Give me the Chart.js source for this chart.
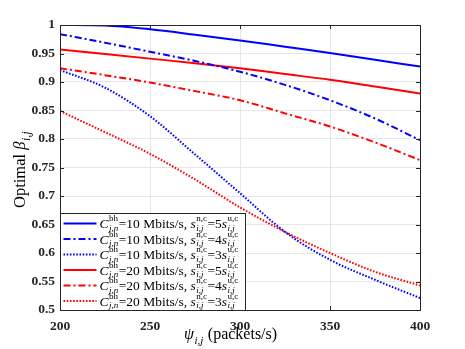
<!DOCTYPE html>
<html>
<head>
<meta charset="utf-8">
<script src="https://cdn.jsdelivr.net/npm/chart.js@4.4.1/dist/chart.umd.min.js"></script>
<style>
  html, body { margin: 0; padding: 0; background: #fff; }
  canvas { display: block; }
</style>
</head>
<body>
<canvas id="betaChart" width="465" height="349"></canvas>
<script>
// Data
const psi = [200, 225, 250, 275, 300, 325, 350, 375, 400];
const xTicks = [200, 250, 300, 350, 400];
const yTicks = [0.5, 0.55, 0.6, 0.65, 0.7, 0.75, 0.8, 0.85, 0.9, 0.95, 1];

const bh10_5 = [1.0, 0.999, 0.9925, 0.983, 0.973, 0.962, 0.951, 0.939, 0.927];
const bh10_4 = [0.984, 0.969, 0.953, 0.937, 0.918, 0.895, 0.868, 0.836, 0.798];
const bh10_3 = [0.921, 0.89, 0.840, 0.773, 0.705, 0.637, 0.588, 0.553, 0.521];
const bh20_5 = [0.957, 0.949, 0.941, 0.933, 0.924, 0.914, 0.904, 0.892, 0.880];
const bh20_4 = [0.924, 0.912, 0.899, 0.884, 0.868, 0.845, 0.822, 0.794, 0.763];
const bh20_3 = [0.849, 0.812, 0.774, 0.729, 0.680, 0.637, 0.600, 0.567, 0.543];

const seriesRates = ['10', '10', '10', '20', '20', '20'];
const seriesRatios = ['5', '4', '3', '5', '4', '3'];

const BLUE = '#0000ff';
const RED = '#ff0000';
const DASHDOT = [7, 3, 2, 3];
const DOT = [1.6, 1.6];

const serif = '"Liberation Serif", "DejaVu Serif", serif';

// draws a run of text pieces; pieces may carry a superscript and subscript
function drawRich(ctx, x, y, pieces, size) {
    let cx = x;
    pieces.forEach(p => {
        ctx.font = (p.it ? 'italic ' : '') + size + 'px ' + serif;
        ctx.fillText(p.t, cx, y);
        cx += ctx.measureText(p.t).width;
        if (p.sup || p.sub) {
            const small = Math.round(size * 0.7);
            let w = 0;
            if (p.sup) {
                ctx.font = small + 'px ' + serif;
                ctx.fillText(p.sup, cx + 0.5, y - size * 0.42);
                w = Math.max(w, ctx.measureText(p.sup).width);
            }
            if (p.sub) {
                ctx.font = 'italic ' + small + 'px ' + serif;
                ctx.fillText(p.sub, cx + 0.5, y + size * 0.3);
                w = Math.max(w, ctx.measureText(p.sub).width);
            }
            cx += w + 1;
        }
    });
    return cx - x;
}

function legendPieces(rate, ratio) {
    return [
        { t: 'C', it: true, sup: 'bh', sub: 'j,n' },
        { t: '=' + rate + ' Mbits/s, ' },
        { t: 's', it: true, sup: 'n,c', sub: 'i,j' },
        { t: '=' + ratio },
        { t: 's', it: true, sup: 'u,c', sub: 'i,j' }
    ];
}

const decorPlugin = {
    id: 'decor',
    afterDatasetsDraw(chart) {
        const ctx = chart.ctx;
        const a = chart.chartArea;
        const xs = chart.scales.x, ys = chart.scales.y;
        ctx.save();

        // inner ticks and frame
        ctx.strokeStyle = '#262626';
        ctx.lineWidth = 1;
        ctx.beginPath();
        xTicks.forEach(v => {
            const px = Math.round(xs.getPixelForValue(v)) + 0.5;
            ctx.moveTo(px, a.bottom); ctx.lineTo(px, a.bottom - 4);
            ctx.moveTo(px, a.top); ctx.lineTo(px, a.top + 4);
        });
        yTicks.forEach(v => {
            const py = Math.round(ys.getPixelForValue(v)) + 0.5;
            ctx.moveTo(a.left, py); ctx.lineTo(a.left + 4, py);
            ctx.moveTo(a.right, py); ctx.lineTo(a.right - 4, py);
        });
        ctx.stroke();
        ctx.strokeRect(Math.round(a.left) + 0.5, Math.round(a.top) + 0.5,
            Math.round(a.right - a.left), Math.round(a.bottom - a.top));

        // legend box
        const lx = Math.round(a.left) + 0.5, lw = 185;
        const rowH = 15.5, lh = 97;
        const ly = Math.round(a.bottom) + 0.5 - lh;
        ctx.fillStyle = '#fff';
        ctx.fillRect(lx, ly, lw, lh);
        ctx.strokeStyle = '#262626';
        ctx.strokeRect(lx, ly, lw, lh);

        chart.data.datasets.forEach((ds, i) => {
            const cy = ly + 10 + i * rowH;
            ctx.strokeStyle = ds.borderColor;
            ctx.lineWidth = 2;
            ctx.setLineDash(ds.borderDash || []);
            ctx.beginPath();
            ctx.moveTo(lx + 3, cy); ctx.lineTo(lx + 36, cy);
            ctx.stroke();
            ctx.setLineDash([]);
            ctx.fillStyle = '#000';
            ctx.textBaseline = 'middle';
            drawRich(ctx, lx + 39, cy + 1, legendPieces(seriesRates[i], seriesRatios[i]), 13.5);
        });

        // axis titles
        ctx.fillStyle = '#000';
        ctx.textBaseline = 'alphabetic';
        const xt = [{ t: 'ψ', it: true, sub: 'i,j' }, { t: ' (packets/s)' }];
        drawRich(ctx, 184, 339, xt, 16);

        ctx.translate(25, 208);
        ctx.rotate(-Math.PI / 2);
        drawRich(ctx, 0, 0, [{ t: 'Optimal ' }, { t: 'β', it: true, sub: 'i,j' }], 16.5);
        ctx.restore();
    }
};

function line(data, color, dash) {
    return {
        data: data,
        borderColor: color,
        borderWidth: 2,
        borderDash: dash,
        pointRadius: 0,
        fill: false,
        cubicInterpolationMode: 'monotone'
    };
}

new Chart(document.getElementById('betaChart'), {
    type: 'line',
    data: {
        labels: psi,
        datasets: [
            line(bh10_5, BLUE, []),
            line(bh10_4, BLUE, DASHDOT),
            line(bh10_3, BLUE, DOT),
            line(bh20_5, RED, []),
            line(bh20_4, RED, DASHDOT),
            line(bh20_3, RED, DOT)
        ]
    },
    options: {
        responsive: false,
        animation: false,
        layout: { padding: { left: 0, right: 45, top: 25, bottom: 0 } },
        plugins: { legend: { display: false }, tooltip: { enabled: false } },
        scales: {
            x: {
                type: 'linear',
                min: 200, max: 400,
                afterBuildTicks: s => { s.ticks = xTicks.map(v => ({ value: v })); },
                afterFit: s => { s.height = 39; },
                grid: { color: '#e6e6e6', drawTicks: false },
                border: { display: false },
                ticks: {
                    padding: 8,
                    color: '#262626',
                    font: { family: serif, size: 13.5, weight: 'bold' }
                }
            },
            y: {
                min: 0.5, max: 1,
                afterBuildTicks: s => { s.ticks = yTicks.map(v => ({ value: v })); },
                afterFit: s => { s.width = 60; },
                grid: { color: '#e6e6e6', drawTicks: false },
                border: { display: false },
                ticks: {
                    padding: 5,
                    color: '#262626',
                    font: { family: serif, size: 13.5, weight: 'bold' },
                    callback: v => String(Math.round(v * 100) / 100)
                }
            }
        }
    },
    plugins: [decorPlugin]
});
</script>
</body>
</html>
